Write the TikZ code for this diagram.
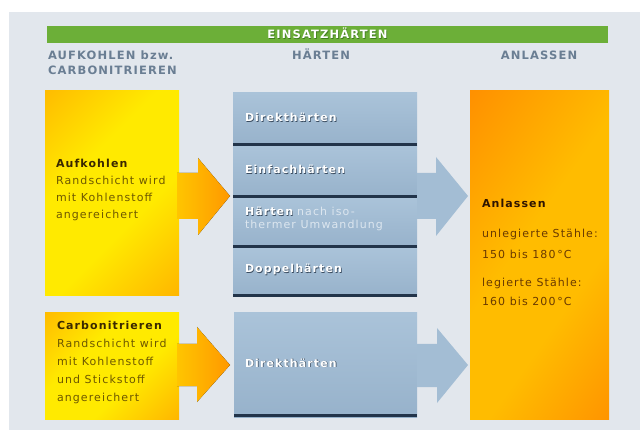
\documentclass[tikz,border=0pt]{standalone}
\usepackage{fontspec}
\setmainfont{DejaVu Sans}[LetterSpace=10]
\usetikzlibrary{calc}
\definecolor{bgc}{HTML}{E2E7ED}
\definecolor{grn}{HTML}{6CAF38}
\definecolor{grnd}{HTML}{3F7A1E}
\definecolor{hdc}{HTML}{6A7E93}
\definecolor{yelO}{HTML}{FFA000}
\definecolor{yelO2}{HTML}{FF9800}
\definecolor{yelY}{HTML}{FFEA00}
\definecolor{orA}{HTML}{FF7A00}
\definecolor{orB}{HTML}{FFBC00}
\definecolor{ytxt}{HTML}{6E5800}
\definecolor{ybold}{HTML}{3A2800}
\definecolor{otxt}{HTML}{6A3A00}
\definecolor{obold}{HTML}{2E1400}
\definecolor{bluetop}{HTML}{AAC3D9}
\definecolor{bluebot}{HTML}{97B2CB}
\definecolor{bluedk}{HTML}{22344A}
\definecolor{bluearr}{HTML}{A3BDD4}
\definecolor{shc}{HTML}{3A4C60}
\definecolor{pale}{HTML}{DCE6EF}
\pgfdeclarehorizontalshading{yelsh}{100bp}{color(0bp)=(yelO); color(38bp)=(yelY); color(60bp)=(yelY); color(100bp)=(yelO2)}
\pgfdeclarehorizontalshading{orsh}{100bp}{color(0bp)=(orA); color(45bp)=(orB); color(62bp)=(orB); color(100bp)=(orA)}
\newcommand{\shadowed}[2][shc]{\rlap{\kern0.7pt\raisebox{-0.7pt}{\color{#1}#2}}#2}
\begin{document}
\begin{tikzpicture}[x=1pt,y=-1pt,
  every node/.style={inner sep=0pt, outer sep=0pt, font=\fontsize{11pt}{13pt}\selectfont},
  hd/.style={font=\fontsize{11.5pt}{13pt}\selectfont\bfseries, text=hdc},
  ybox/.style={anchor=north west, shade, shading=yelsh, shading angle=-45, minimum width=134pt},
  obox/.style={anchor=north west, shade, shading=orsh, shading angle=-35, minimum width=139pt},
  brow/.style={anchor=north west, top color=bluetop, bottom color=bluebot, minimum width=184pt},
  ytext/.style={anchor=base west, text=ytxt},
  otext/.style={anchor=base west, text=otxt},
  btext/.style={anchor=base west, text=white, font=\fontsize{11pt}{13pt}\selectfont\bfseries},
  yarrow/.style={left color=yelO!50!yelY, right color=yelO2},
  barrow/.style={fill=bluearr},
  dkband/.style={fill=bluedk}
]
\useasboundingbox (0,0) rectangle (640,430);
\fill[white] (0,0) rectangle (640,430);
\fill[bgc] (9,12) rectangle (640,430);

% title bar and headings
\node[anchor=north west, fill=grn, minimum width=561pt, minimum height=17pt] (bar) at (47,26) {};
\node[anchor=base, text=white, font=\fontsize{11.5pt}{13pt}\selectfont\bfseries] (bart) at (bar.center |- 0,39) {\shadowed[grnd]{EINSATZHÄRTEN}};
\node[hd, anchor=base west] (h1) at (48,60) {AUFKOHLEN bzw.};
\node[hd, anchor=base west] (h1b) at (48,75) {CARBONITRIEREN};
\node[hd, anchor=base] (h2) at (321,60) {HÄRTEN};
\node[hd, anchor=base] (h3) at (539,60) {ANLASSEN};

% reference rows for arrows
\coordinate (c1) at (0,196);
\coordinate (c2) at (0,365);

% boxes
\node[ybox, minimum height=205pt] (y1) at (45,91) {};
\node[ybox, minimum height=106pt] (y2) at (45,313) {};
\node[obox, minimum height=328pt] (o) at (470,91) {};
\node[brow, minimum height=53pt] (r1) at (233,93) {};
\node[brow, minimum height=52pt] (r2) at (233,146) {};
\node[brow, minimum height=50pt] (r3) at (233,198) {};
\node[brow, minimum height=49pt] (r4) at (233,248) {};
\node[brow, minimum width=183pt, minimum height=104pt] (b2) at (234,313) {};
\foreach \r in {r1,r2,r3,r4,b2}{
  \fill[dkband] ($(\r.south west)+(0,-3)$) rectangle (\r.south east);
}

% block arrows
\fill[yarrow] ($(y1.east |- c1)+(-2,-23)$) -- ($(y1.east |- c1)+(19,-23)$) -- ($(y1.east |- c1)+(19,-38)$)
  -- ($(r2.west |- c1)+(-3,0)$) -- ($(y1.east |- c1)+(19,39)$) -- ($(y1.east |- c1)+(19,23)$) -- ($(y1.east |- c1)+(-2,23)$) -- cycle;
\fill[yarrow] ($(y2.east |- c2)+(-2,-21)$) -- ($(y2.east |- c2)+(18,-21)$) -- ($(y2.east |- c2)+(18,-38)$)
  -- ($(b2.west |- c2)+(-4,0)$) -- ($(y2.east |- c2)+(18,37)$) -- ($(y2.east |- c2)+(18,21)$) -- ($(y2.east |- c2)+(-2,21)$) -- cycle;
\fill[barrow] ($(r2.east |- c1)+(0,-23)$) -- ($(r2.east |- c1)+(19,-23)$) -- ($(r2.east |- c1)+(19,-39)$)
  -- ($(o.west |- c1)+(-2,0)$) -- ($(r2.east |- c1)+(19,40)$) -- ($(r2.east |- c1)+(19,23)$) -- ($(r2.east |- c1)+(0,23)$) -- cycle;
\fill[barrow] ($(b2.east |- c2)+(0,-21)$) -- ($(b2.east |- c2)+(20,-21)$) -- ($(b2.east |- c2)+(20,-37)$)
  -- ($(o.west |- c2)+(-2,0)$) -- ($(b2.east |- c2)+(20,38)$) -- ($(b2.east |- c2)+(20,22)$) -- ($(b2.east |- c2)+(0,22)$) -- cycle;

% yellow box texts
\node[ytext, text=ybold, font=\fontsize{11pt}{13pt}\selectfont\bfseries] (ya) at (56,168) {Aufkohlen};
\node[ytext] (yb) at (56,185) {Randschicht wird};
\node[ytext] (yc) at (56,202) {mit Kohlenstoff};
\node[ytext] (yd) at (56,219) {angereichert};
\node[ytext, text=ybold, font=\fontsize{11pt}{13pt}\selectfont\bfseries] (za) at (57,330) {Carbonitrieren};
\node[ytext] (zb) at (57,348) {Randschicht wird};
\node[ytext] (zc) at (57,366) {mit Kohlenstoff};
\node[ytext] (zd) at (57,383) {und Stickstoff};
\node[ytext] (ze) at (57,401) {angereichert};

% blue texts
\node[btext] (ta) at (245,122) {\shadowed{Direkthärten}};
\node[btext] (tb) at (245,174) {\shadowed{Einfachhärten}};
\node[anchor=north west, text=white, align=left, font=\fontsize{11pt}{13pt}\selectfont\bfseries] (tc) at (245,207)
  {\shadowed{Härten}\hspace{4pt}{\mdseries\color{pale}nach iso-}\\[-0.5pt]{\mdseries\color{pale}thermer Umwandlung}};
\node[btext] (te) at (245,273) {\shadowed{Doppelhärten}};
\node[btext] (tf) at (245,367) {\shadowed{Direkthärten}};

% orange texts
\node[otext, text=obold, font=\fontsize{11pt}{13pt}\selectfont\bfseries] (oa) at (482,208) {Anlassen};
\node[otext] (ob) at (482,238) {unlegierte Stähle:};
\node[otext] (oc) at (482,259) {150 bis 180\thinspace°C};
\node[otext] (od) at (482,287) {legierte Stähle:};
\node[otext] (oe) at (482,306) {160 bis 200\thinspace°C};
\end{tikzpicture}
\end{document}
